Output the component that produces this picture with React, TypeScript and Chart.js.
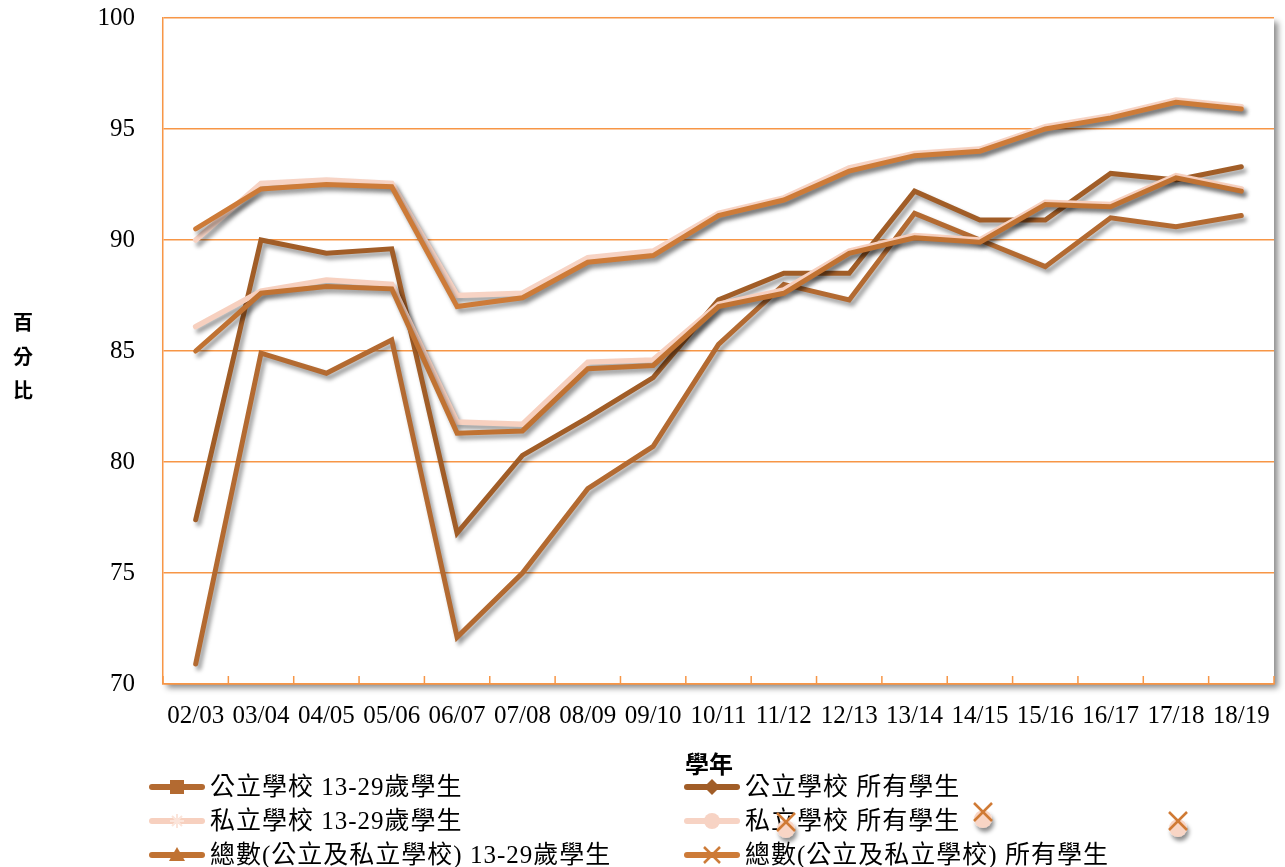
import React, { useEffect, useRef } from 'react';
import { Chart, registerables } from 'chart.js';

Chart.register(...registerables);

// ---- data ----
const categories = ['02/03', '03/04', '04/05', '05/06', '06/07', '07/08', '08/09', '09/10', '10/11', '11/12', '12/13', '13/14', '14/15', '15/16', '16/17', '17/18', '18/19'];
const publicAge = [70.9, 84.9, 84.0, 85.5, 72.1, 75.0, 78.8, 80.7, 85.3, 88.0, 87.3, 91.2, 90.0, 88.8, 91.0, 90.6, 91.1];
const publicAll = [77.4, 90.0, 89.4, 89.6, 76.8, 80.3, 82.0, 83.8, 87.3, 88.5, 88.5, 92.2, 90.9, 90.9, 93.0, 92.7, 93.3];
const privateAge = [86.1, 87.7, 88.2, 88.0, 81.8, 81.7, 84.5, 84.6, 87.1, 87.75, 89.5, 90.2, 90.0, 91.7, 91.6, 92.9, 92.3];
const privateAll = [90.0, 92.55, 92.7, 92.55, 87.5, 87.6, 89.2, 89.5, 91.2, 91.9, 93.25, 93.9, 94.1, 95.1, 95.6, 96.3, 96.0];
const totalAge = [85.0, 87.6, 87.9, 87.8, 81.3, 81.4, 84.2, 84.35, 87.0, 87.6, 89.4, 90.1, 89.9, 91.6, 91.5, 92.8, 92.2];
const totalAll = [90.5, 92.3, 92.5, 92.4, 87.0, 87.4, 89.0, 89.3, 91.1, 91.8, 93.1, 93.8, 94.0, 95.0, 95.5, 96.2, 95.9];
const yTicks = [70, 75, 80, 85, 90, 95, 100];

const seriesNames = [
  '公立學校 13-29歲學生',
  '公立學校 所有學生',
  '私立學校 13-29歲學生',
  '私立學校 所有學生',
  '總數(公立及私立學校) 13-29歲學生',
  '總數(公立及私立學校) 所有學生',
];
const seriesColors = ['#b36a31', '#a15d27', '#f7d0bf', '#f7d3c4', '#c07232', '#cd7b38'];
const seriesMarkers = ['square', 'diamond', 'star', 'circle', 'triangle', 'cross'];
const seriesValues = [publicAge, publicAll, privateAge, privateAll, totalAge, totalAll];

const ORANGE = '#f79646';
const LATIN = "'Liberation Serif', 'Noto Sans CJK TC', serif";

const plotPlugin = {
  id: 'plotDecor',
  beforeDraw(chart: any) {
    const { ctx, chartArea: a } = chart;
    ctx.save();
    ctx.shadowColor = 'rgba(0,0,0,0.45)';
    ctx.shadowBlur = 6;
    ctx.shadowOffsetX = 4;
    ctx.shadowOffsetY = 4;
    ctx.fillStyle = '#ffffff';
    ctx.fillRect(a.left, a.top, a.right - a.left, a.bottom - a.top);
    ctx.restore();
  },
  beforeDatasetsDraw(chart: any) {
    const { ctx, chartArea: a } = chart;
    const xs = chart.scales.x;
    const half = (xs.getPixelForValue(1) - xs.getPixelForValue(0)) / 2;
    ctx.save();
    ctx.strokeStyle = ORANGE;
    ctx.lineWidth = 1.5;
    for (let i = 0; i <= categories.length; i++) {
      const px = xs.getPixelForValue(i) - half;
      ctx.beginPath();
      ctx.moveTo(px, a.bottom);
      ctx.lineTo(px, a.bottom - 8);
      ctx.stroke();
    }
    ctx.restore();
    ctx.save();
    ctx.shadowColor = 'rgba(0,0,0,0.4)';
    ctx.shadowBlur = 4;
    ctx.shadowOffsetX = 3;
    ctx.shadowOffsetY = 4;
  },
  afterDatasetsDraw(chart: any) {
    chart.ctx.restore();
  },
};

function Marker({ kind, color }: { kind: string; color: string }) {
  const c = 29, m = 10;
  if (kind === 'square') return <rect x={c - 7} y={m - 7} width={14} height={14} fill={color} />;
  if (kind === 'diamond') return <polygon points={`${c},${m - 8} ${c + 8},${m} ${c},${m + 8} ${c - 8},${m}`} fill={color} />;
  if (kind === 'circle') return <circle cx={c} cy={m} r={8} fill={color} />;
  if (kind === 'triangle') return <polygon points={`${c},${m - 8} ${c + 8},${m + 6} ${c - 8},${m + 6}`} fill={color} />;
  if (kind === 'star')
    return (
      <g stroke="#fbe4da" strokeWidth={2}>
        <line x1={c - 7} y1={m} x2={c + 7} y2={m} />
        <line x1={c} y1={m - 7} x2={c} y2={m + 7} />
        <line x1={c - 5} y1={m - 5} x2={c + 5} y2={m + 5} />
        <line x1={c - 5} y1={m + 5} x2={c + 5} y2={m - 5} />
      </g>
    );
  return (
    <g stroke={color} strokeWidth={2.5}>
      <line x1={c - 8} y1={m - 8} x2={c + 8} y2={m + 8} />
      <line x1={c - 8} y1={m + 8} x2={c + 8} y2={m - 8} />
    </g>
  );
}

function Stray({ x, y }: { x: number; y: number }) {
  return (
    <svg width={30} height={34} style={{ position: 'absolute', left: x - 15, top: y - 15, overflow: 'visible' }}>
      <defs>
        <filter id={`sh${x}`} x="-50%" y="-50%" width="200%" height="200%">
          <feDropShadow dx="2" dy="4" stdDeviation="2" floodColor="#000" floodOpacity="0.45" />
        </filter>
      </defs>
      <circle cx={15} cy={22} r={9} fill="#f8d5c5" filter={`url(#sh${x})`} />
      <g stroke="#d07a35" strokeWidth={2.5}>
        <line x1={6} y1={6} x2={24} y2={24} />
        <line x1={6} y1={24} x2={24} y2={6} />
      </g>
    </svg>
  );
}

export default function App() {
  const canvasRef = useRef<HTMLCanvasElement | null>(null);

  useEffect(() => {
    document.body.style.margin = '0';
    const canvas = canvasRef.current;
    if (!canvas) return;
    const datasets = seriesValues.map((vals, i) => ({
      label: seriesNames[i],
      data: vals,
      borderColor: seriesColors[i],
      backgroundColor: seriesColors[i],
      borderWidth: i === 2 || i === 3 ? 5.5 : 5,
      order: 5 - i,
    }));
    const chart = new Chart(canvas, {
      type: 'line',
      data: { labels: categories, datasets },
      options: {
        animation: false,
        responsive: false,
        layout: { padding: { left: 0, top: 0, right: 11, bottom: 0 } },
        plugins: { legend: { display: false }, tooltip: { enabled: false } },
        elements: {
          point: { radius: 0, hoverRadius: 0 },
          line: { tension: 0, borderCapStyle: 'round', borderJoinStyle: 'miter' },
        },
        scales: {
          x: {
            type: 'category',
            offset: true,
            grid: { display: false },
            border: { display: true, color: ORANGE, width: 1.5 },
            ticks: {
              autoSkip: false,
              maxRotation: 0,
              color: '#000',
              font: { family: LATIN, size: 25 },
              padding: 9,
            },
            afterFit: (s: any) => {
              s.height = 183;
            },
          },
          y: {
            min: 70,
            max: 100,
            afterBuildTicks: (s: any) => {
              s.ticks = yTicks.map((v) => ({ value: v }));
            },
            grid: { color: ORANGE, lineWidth: 1.5, drawTicks: true, tickLength: 25, tickColor: 'rgba(0,0,0,0)' },
            border: { display: true, color: ORANGE, width: 1.5 },
            ticks: { color: '#000', font: { family: LATIN, size: 25 }, padding: 3 },
            afterFit: (s: any) => {
              s.width = 163;
            },
          },
        },
      },
      plugins: [plotPlugin],
    } as any);
    return () => chart.destroy();
  }, []);

  const colX = [148, 683];
  const rowY = [787, 821, 855];

  return (
    <div style={{ position: 'absolute', left: 0, top: 0, width: 1285, height: 867, background: '#fff', overflow: 'hidden' }}>
      <canvas ref={canvasRef} width={1285} height={867} style={{ position: 'absolute', left: 0, top: 0 }} />
      <div
        style={{
          position: 'absolute',
          left: 12,
          top: 305,
          width: 22,
          fontFamily: "'Noto Sans CJK TC', sans-serif",
          fontWeight: 700,
          fontSize: 20,
          lineHeight: '34px',
          textAlign: 'center',
          color: '#000',
        }}
      >
        百<br />分<br />比
      </div>
      <div
        style={{
          position: 'absolute',
          left: 685,
          top: 750,
          fontFamily: "'Noto Sans CJK TC', sans-serif",
          fontWeight: 700,
          fontSize: 24,
          lineHeight: '26px',
          color: '#000',
          whiteSpace: 'nowrap',
        }}
      >
        學年
      </div>
      {seriesNames.map((name, i) => {
        const x = colX[i % 2];
        const y = rowY[Math.floor(i / 2)];
        return (
          <div key={name} style={{ position: 'absolute', left: x, top: y - 14, height: 28, display: 'flex', alignItems: 'center', whiteSpace: 'nowrap' }}>
            <svg width={58} height={20} style={{ flex: 'none' }}>
              <line x1={4} y1={10} x2={54} y2={10} stroke={seriesColors[i]} strokeWidth={6} strokeLinecap="round" />
              <Marker kind={seriesMarkers[i]} color={seriesColors[i]} />
            </svg>
            <span style={{ marginLeft: 4, fontFamily: LATIN, fontSize: 25, letterSpacing: 1, color: '#000', lineHeight: '28px' }}>{name}</span>
          </div>
        );
      })}
      <Stray x={786} y={822} />
      <Stray x={983} y={812} />
      <Stray x={1178} y={821} />
    </div>
  );
}
